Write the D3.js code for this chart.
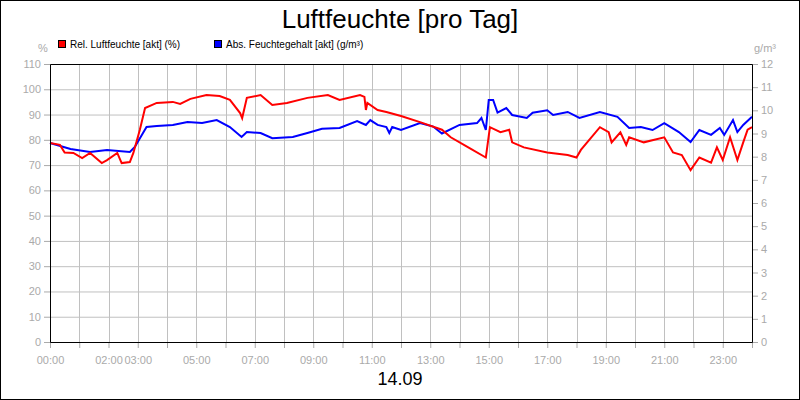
<!DOCTYPE html>
<html><head><meta charset="utf-8">
<script src="https://cdn.jsdelivr.net/npm/d3@7"></script>
<style>body{margin:0;background:#fff}svg{display:block;font-family:Arial,"Liberation Sans",sans-serif}</style>
</head><body><svg id="c" width="800" height="400"></svg>
<script>
const relHours=[0,0.34,0.5,0.8,1.1,1.37,1.77,1.95,2.3,2.45,2.73,2.85,3.07,3.25,3.65,4.2,4.45,4.8,5.35,5.8,6.15,6.5,6.57,6.73,7.2,7.6,8.1,8.8,9.5,9.9,10.6,10.75,10.8,10.85,11.2,11.5,12,12.65,13.4,13.7,14.3,14.9,15.04,15.4,15.7,15.8,16.2,17,17.7,18,18.15,18.8,19.1,19.2,19.5,19.7,19.8,20.3,21,21.3,21.6,21.9,22.2,22.6,22.8,23.0,23.25,23.5,23.7,23.85,24];
const relVals=[78.7,78,75,74.8,72.8,74.8,70.8,72,74.8,70.8,71.2,74.8,83.9,92.6,94.6,95,94.2,96.2,97.7,97.3,95.8,90.6,88.6,96.6,97.7,93.8,94.6,96.6,97.7,95.8,97.7,97,91.8,94.6,91.8,91,89.4,87,84,81,77,73,85,83,84,79,77,75,74,73,76,85,83,79,83,78,81,79,81,75,74,68,73,71,77,72,81,72,79,84,85];
const absHours=[0,0.7,1.37,1.95,2.73,2.9,3.3,3.65,4.2,4.7,5.2,5.7,6.15,6.55,6.73,7.2,7.6,8.3,8.8,9.3,9.9,10.5,10.8,10.95,11.2,11.5,11.6,11.7,12,12.65,13.1,13.4,14,14.6,14.75,14.9,15.0,15.15,15.3,15.6,15.8,16.3,16.5,17,17.2,17.7,18.1,18.8,19.4,19.8,20.2,20.6,21,21.5,21.9,22.2,22.6,22.9,23.05,23.35,23.5,23.7,24];
const absVals=[8.59,8.33,8.2,8.29,8.2,8.42,9.28,9.32,9.37,9.5,9.45,9.58,9.28,8.85,9.06,9.02,8.8,8.85,9.02,9.2,9.24,9.54,9.37,9.58,9.37,9.28,9.02,9.28,9.15,9.45,9.3,9.0,9.37,9.45,9.67,9.15,10.45,10.45,9.9,10.1,9.8,9.67,9.9,10.0,9.8,9.93,9.67,9.93,9.72,9.24,9.28,9.15,9.45,9.06,8.63,9.15,8.94,9.24,8.94,9.58,9.06,9.37,9.72];
const leftTicks=d3.range(0,111,10), rightTicks=d3.range(0,13,1);
const labelHours=[0,2,3,5,7,9,11,13,15,17,19,21,23];
const svg=d3.select("#c");
const L=50,R=752,T=64,B=342, grey="#aaa", grid="#c0c0c0";
const x=d3.scaleLinear().domain([0,24]).range([L,R]);
const yL=d3.scaleLinear().domain([0,110]).range([B,T]);
const yR=d3.scaleLinear().domain([0,12]).range([B,T]);
svg.append("rect").attr("x",0.5).attr("y",0.5).attr("width",799).attr("height",399).attr("fill","#fff").attr("stroke","#000");
const g=svg.append("g");
g.selectAll(".hg").data(leftTicks.slice(1)).join("line").attr("x1",L).attr("x2",R).attr("y1",d=>yL(d)+.5).attr("y2",d=>yL(d)+.5).attr("stroke",grid);
g.selectAll(".vg").data(d3.range(1,24)).join("line").attr("y1",T).attr("y2",B).attr("x1",d=>Math.round(x(d))+.5).attr("x2",d=>Math.round(x(d))+.5).attr("stroke",grid);
const la=svg.append("g").attr("transform",`translate(${L},0)`).call(d3.axisLeft(yL).tickValues(leftTicks).tickSize(6).tickSizeOuter(0));
const ra=svg.append("g").attr("transform",`translate(${R},0)`).call(d3.axisRight(yR).tickValues(rightTicks).tickSize(6).tickSizeOuter(0));
const ba=svg.append("g").attr("transform",`translate(0,${B})`).call(d3.axisBottom(x).tickValues(d3.range(0,25)).tickSize(6).tickSizeOuter(0).tickFormat(d=>labelHours.includes(d)?String(d).padStart(2,"0")+":00":""));
[la,ra,ba].forEach(a=>{a.selectAll("text").attr("fill",grey).style("font-size","11px");a.selectAll(".tick line").attr("stroke",grey);a.select(".domain").remove();});
ba.selectAll("text").attr("dy","1.2em");
const line=(ys)=>d3.line().x(d=>x(d[0])).y(d=>ys(d[1]));
svg.append("path").datum(absHours.map((h,i)=>[h,absVals[i]])).attr("d",line(yR)).attr("fill","none").attr("stroke","#0000ff").attr("stroke-width",2);
svg.append("path").datum(relHours.map((h,i)=>[h,relVals[i]])).attr("d",line(yL)).attr("fill","none").attr("stroke","#ff0000").attr("stroke-width",2);
svg.append("path").attr("d",`M${L+.5},${T+.5}H${R+.5}V${B+.5}H${L+.5}Z`).attr("fill","none").attr("stroke","#000");
svg.append("text").attr("x",400).attr("y",28).attr("text-anchor","middle").style("font-size","26px").text("Luftfeuchte [pro Tag]");
svg.append("text").attr("x",400).attr("y",385).attr("text-anchor","middle").style("font-size","18px").text("14.09");
svg.append("text").attr("x",43).attr("y",52).attr("text-anchor","middle").attr("fill",grey).style("font-size","11px").text("%");
svg.append("text").attr("x",765).attr("y",52).attr("text-anchor","middle").attr("fill",grey).style("font-size","11px").text("g/m³");
const leg=[["Rel. Luftfeuchte [akt] (%)","#ff0000",58],["Abs. Feuchtegehalt [akt] (g/m³)","#0000ff",214]];
leg.forEach(([t,c,lx])=>{svg.append("rect").attr("x",lx+.5).attr("y",40.5).attr("width",7).attr("height",7).attr("fill",c).attr("stroke","#000");
svg.append("text").attr("x",lx+12).attr("y",48).style("font-size","10px").text(t);});
</script></body></html>
